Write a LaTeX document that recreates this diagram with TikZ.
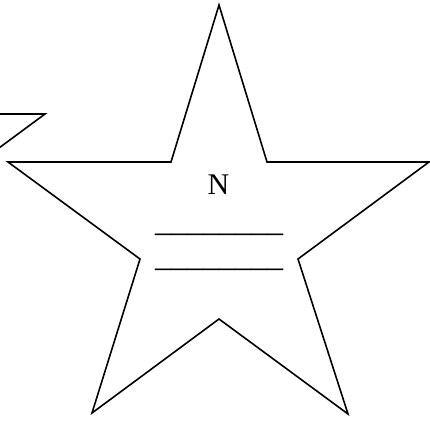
\documentclass[tikz,border=0pt]{standalone}
\usepackage{fontspec}
\setmainfont{Liberation Serif}
\begin{document}
\begin{tikzpicture}[x=1pt,y=-1pt,
  edge/.style={draw=black,line width=1.6pt,line join=miter},
  lbl/.style={inner sep=0pt,outer sep=0pt}]
\useasboundingbox (0,0) rectangle (430,423);
\clip (0,0) rectangle (430,423);
% partial neighbouring star at top-left
\coordinate (p1) at (-20,114);
\coordinate (p2) at (45,114);
\coordinate (p3) at (-20,162);
\draw[edge] (p1) -- (p2) -- (p3);
% main star
\coordinate (o1) at (219,5);
\coordinate (i1) at (267,162);
\coordinate (o2) at (429,162);
\coordinate (i2) at (298,259);
\coordinate (o3) at (348,414);
\coordinate (i3) at (219,319);
\coordinate (o4) at (92,413);
\coordinate (i4) at (140,259);
\coordinate (o5) at (8,162);
\coordinate (i5) at (171,162);
\draw[edge] (o1) -- (i1) -- (o2) -- (i2) -- (o3) -- (i3) -- (o4) -- (i4) -- (o5) -- (i5) -- cycle;
\node[lbl,anchor=base,font=\fontsize{30}{36}\selectfont] (n) at (218.5,194) {N};
\node[lbl,anchor=base west,font=\fontsize{32}{38}\selectfont] (l1) at (155,231) {\_\_\_\_\_\_\_\_};
\node[lbl,anchor=base west,font=\fontsize{32}{38}\selectfont] (l2) at (155,266) {\_\_\_\_\_\_\_\_};
\end{tikzpicture}
\end{document}
